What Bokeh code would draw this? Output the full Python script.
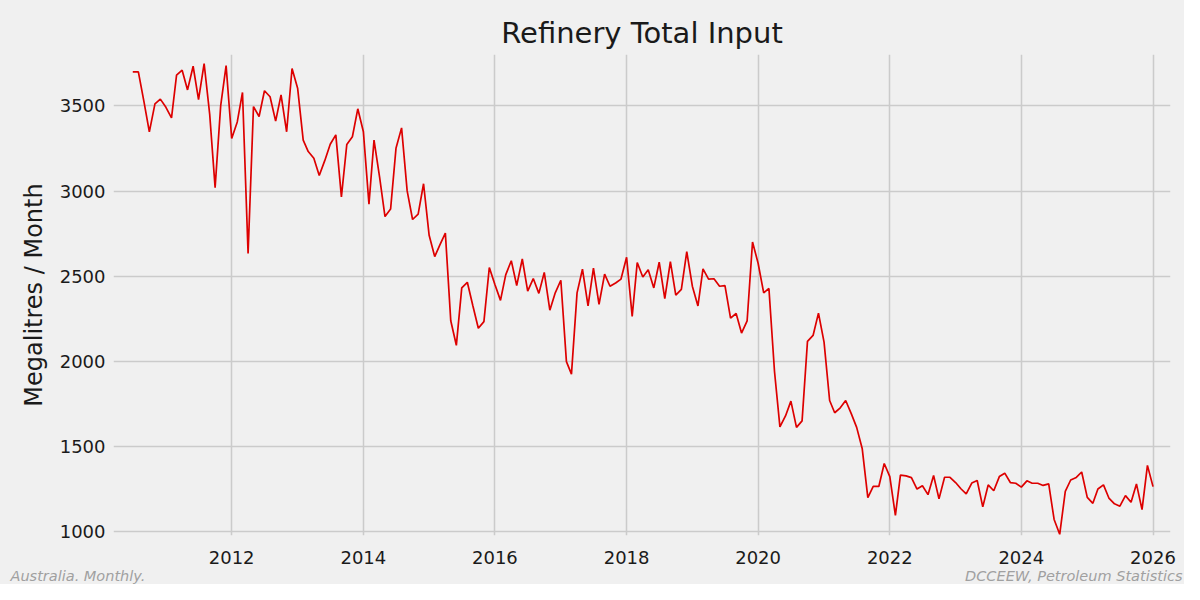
from datetime import datetime
import pandas as pd
from bokeh.plotting import figure
from bokeh.layouts import column
from bokeh.models import Range1d, FixedTicker, DatetimeTickFormatter, ColumnDataSource
from bokeh.core.properties import value
from bokeh.embed import file_html
from bokeh.resources import INLINE

# ---- data: monthly refinery total input (ML), Jul 2010 .. Jan 2026 ----
start_month = "2010-07-01"
input_ml = [
    3700, 3700, 3525, 3348, 3512, 3540,            # 2010 Jul-Dec
    3492, 3430, 3681, 3710, 3594, 3733, 3537, 3749, 3450, 3020, 3502, 3737,  # 2011
    3309, 3406, 3579, 2634, 3496, 3438, 3589, 3554, 3411, 3565, 3348, 3720,  # 2012
    3604, 3299, 3232, 3193, 3091, 3180, 3275, 3330, 2966, 3274, 3319, 3483,  # 2013
    3348, 2923, 3299, 3082, 2850, 2894, 3251, 3371, 3001, 2833, 2865, 3043,  # 2014
    2740, 2615, 2682, 2753, 2238, 2094, 2431, 2464, 2325, 2194, 2233, 2551,  # 2015
    2451, 2358, 2508, 2591, 2445, 2601, 2412, 2486, 2399, 2522, 2300, 2402,  # 2016
    2476, 1998, 1925, 2402, 2541, 2325, 2547, 2335, 2512, 2441, 2460, 2483,  # 2017
    2611, 2264, 2580, 2495, 2538, 2431, 2582, 2368, 2586, 2389, 2422, 2644,  # 2018
    2441, 2325, 2543, 2483, 2485, 2441, 2445, 2254, 2281, 2166, 2238, 2701,  # 2019
    2576, 2402, 2428, 1940, 1615, 1679, 1766, 1612, 1650, 2117, 2152, 2283,  # 2020
    2113, 1770, 1698, 1727, 1770, 1693, 1612, 1486, 1200, 1265, 1265, 1400,  # 2021
    1323, 1095, 1332, 1327, 1317, 1250, 1269, 1217, 1329, 1192, 1319, 1319,  # 2022
    1288, 1250, 1221, 1285, 1300, 1145, 1274, 1240, 1323, 1343, 1288, 1284,  # 2023
    1261, 1298, 1284, 1284, 1271, 1280, 1071, 984, 1236, 1303, 1318, 1350,   # 2024
    1201, 1166, 1250, 1274, 1197, 1163, 1149, 1211, 1172, 1280, 1129, 1389,  # 2025
    1264,                                                                    # 2026 Jan
]
tick_years = [2012, 2014, 2016, 2018, 2020, 2022, 2024, 2026]
y_ticks = [1000, 1500, 2000, 2500, 3000, 3500]

title_text = "Refinery Total Input"
y_label = "Megalitres / Month"
footer_left = "Australia. Monthly."
footer_right = "DCCEEW, Petroleum Statistics"

dates = pd.date_range(start_month, periods=len(input_ml), freq="MS")
src = ColumnDataSource(data=dict(date=dates, value=input_ml))

BG = "#f0f0f0"
GRID = "#cbcbcb"
FONT = "DejaVu Sans"
W = 1184
H_MAIN, H_FOOT = 566, 18

p = figure(
    width=W, height=H_MAIN,
    x_axis_type="datetime",
    x_range=Range1d(datetime(2010, 3, 16), datetime(2026, 4, 8)),
    y_range=Range1d(977, 3802),
    output_backend="svg", toolbar_location=None,
    background_fill_color=BG, border_fill_color=BG,
    min_border_left=113, min_border_right=14, min_border_top=54, min_border_bottom=30,
    frame_align=False,
)
p.outline_line_color = None

p.line("date", "value", source=src, line_color="#dd0000", line_width=1.7)

# title
p.title.text = title_text
p.title.align = "center"
p.title.text_font = FONT
p.title.text_font_size = "29px"
p.title.text_font_style = "normal"
p.title.text_color = "#1a1a1a"

# axes
tick_ms = [pd.Timestamp(f"{y}-01-01").value / 1e6 for y in tick_years]
p.xaxis.ticker = FixedTicker(ticks=tick_ms)
p.xaxis.formatter = DatetimeTickFormatter(years="%Y", months="%Y", days="%Y")
p.yaxis.ticker = FixedTicker(ticks=y_ticks)
for ax in (p.xaxis, p.yaxis):
    ax.axis_line_color = None
    ax.major_tick_line_color = None
    ax.minor_tick_line_color = None
    ax.major_label_text_font = FONT
    ax.major_label_text_font_size = "18px"
    ax.major_label_text_color = "#1a1a1a"
p.xaxis.major_label_standoff = 9
p.yaxis.major_label_standoff = 2
p.yaxis.axis_label = y_label
p.yaxis.axis_label_text_font = FONT
p.yaxis.axis_label_text_font_size = "24px"
p.yaxis.axis_label_text_font_style = "normal"
p.yaxis.axis_label_text_color = "#1a1a1a"
p.yaxis.axis_label_standoff = 9

# grid
p.xgrid.ticker = FixedTicker(ticks=tick_ms)
p.ygrid.ticker = FixedTicker(ticks=y_ticks)
for g in (p.xgrid, p.ygrid):
    g.grid_line_color = GRID
    g.grid_line_width = 1.5

# footer strip (pixel-like coordinates)
f = figure(
    width=W, height=H_FOOT,
    x_range=Range1d(0, W), y_range=Range1d(0, H_FOOT),
    output_backend="svg", toolbar_location=None,
    x_axis_location=None, y_axis_location=None,
    background_fill_color=BG, border_fill_color=BG,
    min_border=0, frame_align=False,
)
f.outline_line_color = None
f.grid.visible = False
foot = ColumnDataSource(data=dict(x=[10, 1182], y=[H_FOOT / 2, H_FOOT / 2],
                                  text=[footer_left, footer_right],
                                  align=["left", "right"]))
f.text(x="x", y="y", text="text", source=foot, text_align="align",
       text_baseline="middle", text_font=value(FONT), text_font_size="14.5px",
       text_font_style="italic", text_color="#a0a0a0")

layout = column(p, f, spacing=0, styles={"background-color": BG})
open("out.html", "w").write(file_html(layout, INLINE))
